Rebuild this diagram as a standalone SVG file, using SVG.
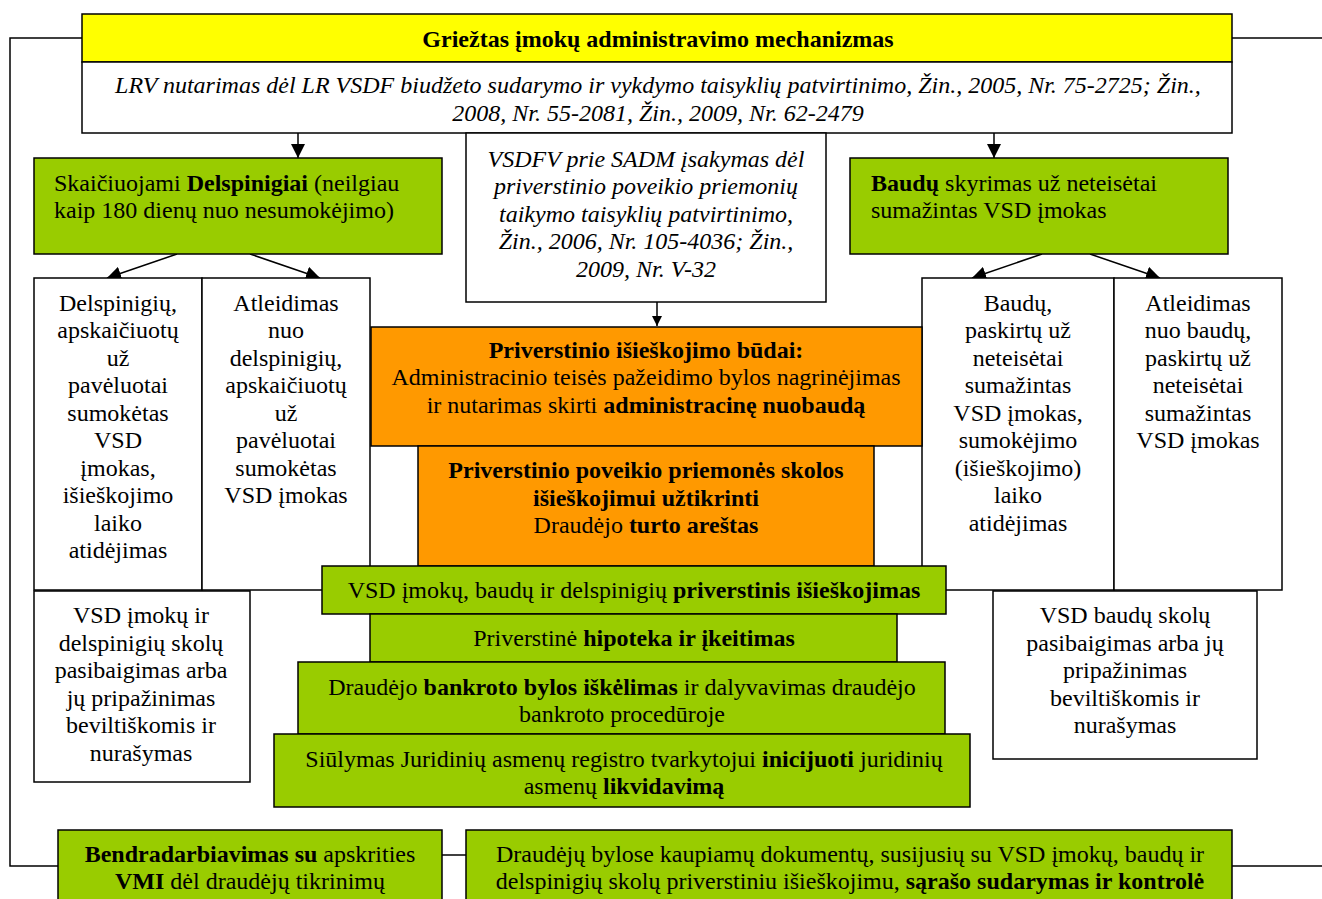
<svg xmlns="http://www.w3.org/2000/svg" width="1322" height="899" viewBox="0 0 1322 899">
<defs>
<marker id="ah" viewBox="0 0 10 10" refX="10" refY="5" markerWidth="10" markerHeight="10" markerUnits="userSpaceOnUse" orient="auto">
<path d="M0,0 L10,5 L0,10 z" fill="#000"/>
</marker>
<marker id="ahb" viewBox="0 0 10 10" refX="10" refY="5" markerWidth="14" markerHeight="14" markerUnits="userSpaceOnUse" orient="auto">
<path d="M0,0 L10,5 L0,10 z" fill="#000"/>
</marker>
</defs>
<style>
rect{stroke:#000;stroke-width:1.5}
.w{fill:#fff}.y{fill:#ffff00}.g{fill:#99cc00}.o{fill:#ff9900}
text{font-family:"Liberation Serif","Times New Roman",serif;font-size:24px;fill:#000}
.c{text-anchor:middle}
.i{font-style:italic}
.b{font-weight:bold}
.ln{stroke:#000;stroke-width:1.5;fill:none}
</style>
<rect width="1322" height="899" fill="#fff" style="stroke:none"/>

<g id="connectors">
<polyline class="ln" points="82,38 10,38 10,866 58,866"/>
<line class="ln" x1="1232" y1="38" x2="1322" y2="38"/>
<line class="ln" x1="1232" y1="866" x2="1322" y2="866"/>
<line class="ln" x1="442" y1="855" x2="466" y2="855"/>
<line class="ln" x1="298" y1="133" x2="298" y2="158" marker-end="url(#ahb)"/>
<line class="ln" x1="994" y1="133" x2="994" y2="158" marker-end="url(#ahb)"/>
<line class="ln" x1="657" y1="302" x2="657" y2="326" marker-end="url(#ah)"/>
<line class="ln" x1="177" y1="254" x2="107" y2="278" marker-end="url(#ahb)"/>
<line class="ln" x1="250" y1="254" x2="320" y2="278" marker-end="url(#ahb)"/>
<line class="ln" x1="1042" y1="254" x2="972" y2="278" marker-end="url(#ahb)"/>
<line class="ln" x1="1090" y1="254" x2="1160" y2="278" marker-end="url(#ahb)"/>
</g>

<g id="title">
<rect class="y" x="82" y="14" width="1150" height="48"/>
<text class="c b" x="658" y="47">Griežtas įmokų administravimo mechanizmas</text>
</g>

<g id="lrv">
<rect class="w" x="82" y="62" width="1150" height="71"/>
<text class="c i" x="658" y="93">LRV nutarimas dėl LR VSDF biudžeto sudarymo ir vykdymo taisyklių patvirtinimo, Žin., 2005, Nr. 75-2725; Žin.,</text>
<text class="c i" x="658" y="121">2008, Nr. 55-2081, Žin., 2009, Nr. 62-2479</text>
</g>

<g id="delspinigiai">
<rect class="g" x="34" y="158" width="408" height="96"/>
<text x="54" y="191">Skaičiuojami <tspan class="b">Delspinigiai</tspan> (neilgiau</text>
<text x="54" y="218">kaip 180 dienų nuo nesumokėjimo)</text>
</g>

<g id="vsdfv">
<rect class="w" x="466" y="133" width="360" height="169"/>
<text class="c i" x="646" y="167">VSDFV prie SADM įsakymas dėl</text>
<text class="c i" x="646" y="194">priverstinio poveikio priemonių</text>
<text class="c i" x="646" y="222">taikymo taisyklių patvirtinimo,</text>
<text class="c i" x="646" y="249">Žin., 2006, Nr. 105-4036; Žin.,</text>
<text class="c i" x="646" y="277">2009, Nr. V-32</text>
</g>

<g id="baudos">
<rect class="g" x="850" y="158" width="378" height="96"/>
<text x="871" y="191"> <tspan class="b">Baudų</tspan> skyrimas už neteisėtai</text>
<text x="871" y="218">sumažintas VSD įmokas</text>
</g>

<g id="delsp-atidejimas">
<rect class="w" x="34" y="278" width="168" height="312"/>
<text class="c" x="118" y="311">Delspinigių,</text>
<text class="c" x="118" y="338">apskaičiuotų</text>
<text class="c" x="118" y="366">už</text>
<text class="c" x="118" y="393">pavėluotai</text>
<text class="c" x="118" y="421">sumokėtas</text>
<text class="c" x="118" y="448">VSD</text>
<text class="c" x="118" y="476">įmokas,</text>
<text class="c" x="118" y="503">išieškojimo</text>
<text class="c" x="118" y="531">laiko</text>
<text class="c" x="118" y="558">atidėjimas</text>
</g>

<g id="delsp-atleidimas">
<rect class="w" x="202" y="278" width="168" height="312"/>
<text class="c" x="286" y="311">Atleidimas</text>
<text class="c" x="286" y="338">nuo</text>
<text class="c" x="286" y="366">delspinigių,</text>
<text class="c" x="286" y="393">apskaičiuotų</text>
<text class="c" x="286" y="421">už</text>
<text class="c" x="286" y="448">pavėluotai</text>
<text class="c" x="286" y="476">sumokėtas</text>
<text class="c" x="286" y="503">VSD įmokas</text>
</g>

<g id="baudu-atidejimas">
<rect class="w" x="922" y="278" width="192" height="312"/>
<text class="c" x="1018" y="311">Baudų,</text>
<text class="c" x="1018" y="338">paskirtų už</text>
<text class="c" x="1018" y="366">neteisėtai</text>
<text class="c" x="1018" y="393">sumažintas</text>
<text class="c" x="1018" y="421">VSD įmokas,</text>
<text class="c" x="1018" y="448">sumokėjimo</text>
<text class="c" x="1018" y="476">(išieškojimo)</text>
<text class="c" x="1018" y="503">laiko</text>
<text class="c" x="1018" y="531">atidėjimas</text>
</g>

<g id="baudu-atleidimas">
<rect class="w" x="1114" y="278" width="168" height="312"/>
<text class="c" x="1198" y="311">Atleidimas</text>
<text class="c" x="1198" y="338">nuo baudų,</text>
<text class="c" x="1198" y="366">paskirtų už</text>
<text class="c" x="1198" y="393">neteisėtai</text>
<text class="c" x="1198" y="421">sumažintas</text>
<text class="c" x="1198" y="448">VSD įmokas</text>
</g>

<g id="budai">
<rect class="o" x="371" y="327" width="551" height="119"/>
<text class="c b" x="646" y="358">Priverstinio išieškojimo būdai:</text>
<text class="c" x="646" y="385">Administracinio teisės pažeidimo bylos nagrinėjimas</text>
<text class="c" x="646" y="413">ir nutarimas skirti <tspan class="b">administracinę nuobaudą</tspan></text>
</g>

<g id="poveikio">
<rect class="o" x="418" y="446" width="456" height="120"/>
<text class="c b" x="646" y="478">Priverstinio poveikio priemonės skolos</text>
<text class="c b" x="646" y="506">išieškojimui užtikrinti</text>
<text class="c" x="646" y="533">Draudėjo <tspan class="b">turto areštas</tspan></text>
</g>

<g id="priverstinis">
<rect class="g" x="322" y="566" width="624" height="48"/>
<text class="c" x="634" y="598">VSD įmokų, baudų ir delspinigių <tspan class="b">priverstinis išieškojimas</tspan></text>
</g>

<g id="hipoteka">
<rect class="g" x="370" y="614" width="527" height="48"/>
<text class="c" x="634" y="646">Priverstinė <tspan class="b">hipoteka ir įkeitimas</tspan></text>
</g>

<g id="bankrotas">
<rect class="g" x="298" y="662" width="647" height="72"/>
<text class="c" x="622" y="695">Draudėjo <tspan class="b">bankroto bylos iškėlimas</tspan> ir dalyvavimas draudėjo</text>
<text class="c" x="622" y="722">bankroto procedūroje</text>
</g>

<g id="likvidavimas">
<rect class="g" x="274" y="734" width="696" height="73"/>
<text class="c" x="624" y="767">Siūlymas Juridinių asmenų registro tvarkytojui <tspan class="b">inicijuoti</tspan> juridinių</text>
<text class="c" x="624" y="794">asmenų <tspan class="b">likvidavimą</tspan></text>
</g>

<g id="imoku-nurasymas">
<rect class="w" x="34" y="591" width="216" height="191"/>
<text class="c" x="141" y="623">VSD įmokų ir</text>
<text class="c" x="141" y="651">delspinigių skolų</text>
<text class="c" x="141" y="678">pasibaigimas arba</text>
<text class="c" x="141" y="706">jų pripažinimas</text>
<text class="c" x="141" y="733">beviltiškomis ir</text>
<text class="c" x="141" y="761">nurašymas</text>
</g>

<g id="baudu-nurasymas">
<rect class="w" x="993" y="591" width="264" height="168"/>
<text class="c" x="1125" y="623">VSD baudų skolų</text>
<text class="c" x="1125" y="651">pasibaigimas arba jų</text>
<text class="c" x="1125" y="678">pripažinimas</text>
<text class="c" x="1125" y="706">beviltiškomis ir</text>
<text class="c" x="1125" y="733">nurašymas</text>
</g>

<g id="vmi">
<rect class="g" x="58" y="830" width="384" height="80"/>
<text class="c" x="250" y="862"><tspan class="b">Bendradarbiavimas su</tspan> apskrities</text>
<text class="c" x="250" y="889"><tspan class="b">VMI</tspan> dėl draudėjų tikrinimų</text>
</g>

<g id="sarasas">
<rect class="g" x="466" y="830" width="766" height="80"/>
<text class="c" x="850" y="862">Draudėjų bylose kaupiamų dokumentų, susijusių su VSD įmokų, baudų ir</text>
<text class="c" x="850" y="889">delspinigių skolų priverstiniu išieškojimu, <tspan class="b">sąrašo sudarymas ir kontrolė</tspan></text>
</g>
</svg>
